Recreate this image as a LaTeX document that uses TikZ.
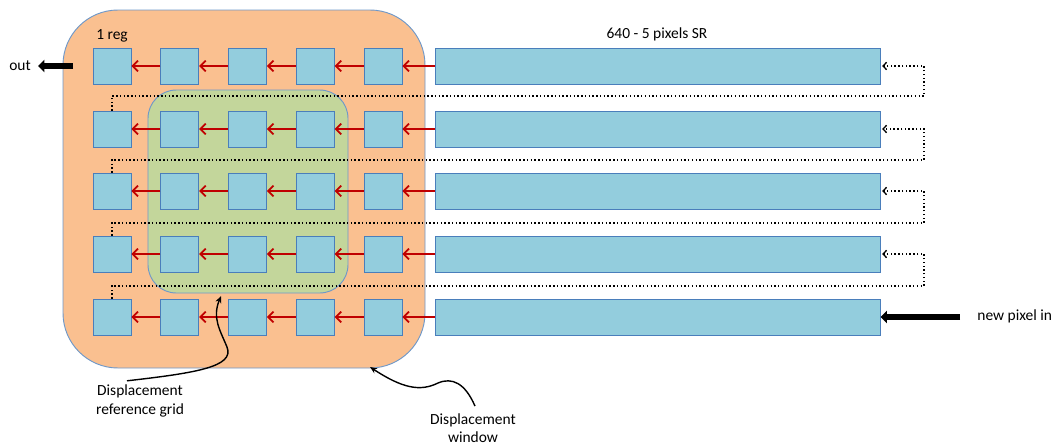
\documentclass[tikz,border=0pt]{standalone}
\usepackage{fontspec}
\setmainfont{Carlito}
\usepackage{xcolor}
\usetikzlibrary{arrows.meta,positioning,calc}
\definecolor{winOrange}{HTML}{FAC090}
\definecolor{gridGreen}{HTML}{C3D69B}
\definecolor{regBlue}{HTML}{93CDDD}
\definecolor{edgeBlue}{HTML}{4A7EBB}
\definecolor{shiftRed}{HTML}{C00000}

\begin{document}
\begin{tikzpicture}[x=0.03cm,y=-0.03cm,
  font=\fontsize{13.2}{15.5}\selectfont,
  reg/.style={draw=edgeBlue,fill=regBlue,line width=0.8pt,inner sep=0pt,minimum width=1.14cm,minimum height=1.08cm},
  longsr/.style={draw=edgeBlue,fill=regBlue,line width=0.8pt,inner sep=0pt,minimum width=13.35cm,minimum height=1.08cm},
  shiftarr/.style={draw=shiftRed,line width=1.7pt,-{Straight Barb[length=4.5pt,width=9pt,line width=1.5pt]}},
  feed/.style={draw=black,dotted,line width=1.2pt,-{Straight Barb[length=3pt,width=6.5pt,line width=1.1pt]},shorten >=1.5pt},
  fatarr/.style={draw=black,line width=5.2pt,-{Triangle[length=5.5pt,width=10.5pt]}},
  callarr/.style={draw=black,line width=1.2pt,-{Stealth[length=6pt,width=5pt]}},
  lbl/.style={inner sep=1pt,align=center}
]
  \useasboundingbox (0,0) rectangle (1051,446);

  % windows
  \draw[draw=edgeBlue!80,fill=winOrange,line width=0.8pt,rounded corners=1.65cm]
    (63,10) rectangle (425,368);
  \draw[draw=edgeBlue!80,fill=gridGreen,line width=0.8pt,rounded corners=0.85cm]
    (148,90) rectangle (348,293);

  % registers and line buffers
  \foreach \i/\y in {1/66,2/129,3/191,4/254,5/317} {
    \foreach \j in {1,...,5}
      \node[reg] (r\i-\j) at ({112+67.75*(\j-1)},\y) {};
    \node[longsr] (b\i) at (657.5,\y) {};
  }

  % shifting
  \foreach \i in {1,...,5} {
    \foreach \j [evaluate=\j as \k using int(\j+1)] in {1,...,4}
      \draw[shiftarr] (r\i-\k.west) -- (r\i-\j.east);
    \draw[shiftarr] (b\i.west) -- (r\i-5.east);
  }

  % line wrap-around
  \foreach \i/\y [evaluate=\i as \k using int(\i+1)] in {1/96,2/160,3/223,4/286} {
    \coordinate (turn\i) at (924,\y);
    \draw[feed] (r\k-1.north) |- (turn\i) |- (b\i.east);
  }

  \node[lbl] (reglbl) at (112,36) {1 reg};
  \node[lbl] (srlbl) at (657,34) {640 - 5 pixels SR};

  \node[lbl,anchor=east,inner xsep=6pt] (out) at (38,66) {out};
  \coordinate (outsrc) at (73,66);
  \draw[fatarr] (outsrc) -- (out.east);

  \node[lbl,anchor=west] (newin) at (976,316) {new pixel in};
  \coordinate (insrc) at (960,317);
  \draw[fatarr] (insrc) -- (b5.east);

  % callouts
  \node[lbl] (refgrid) at (140,401) {Displacement\\reference grid};
  \coordinate (gridtip) at (221,296);
  \draw[callarr] (refgrid.north) ++(-13,-3) .. controls (195,373) and (235,367) .. (227,347)
    .. controls (220,330) and (212,318) .. (gridtip);

  \node[lbl] (window) at (473,428) {Displacement\\window};
  \coordinate (wintip) at (370,367);
  \draw[callarr] (window.north) ++(2,-6) .. controls (465,383) and (452,377) .. (438,383)
    .. controls (420,392) and (402,388) .. (wintip);
\end{tikzpicture}
\end{document}
